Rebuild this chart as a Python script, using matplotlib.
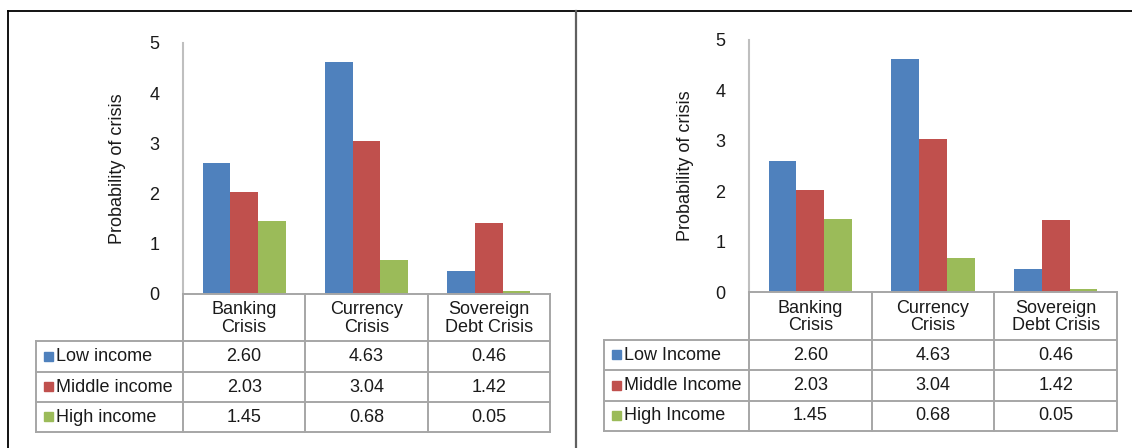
import numpy as np
import matplotlib
matplotlib.use("Agg")
import matplotlib.pyplot as plt

W, H = 1132, 448

categories = ["Banking\nCrisis", "Currency\nCrisis", "Sovereign\nDebt Crisis"]
low_income = [2.60, 4.63, 0.46]
middle_income = [2.03, 3.04, 1.42]
high_income = [1.45, 0.68, 0.05]
labels_left = ["Low income", "Middle income", "High income"]
labels_right = ["Low Income", "Middle Income", "High Income"]
yticks = [0, 1, 2, 3, 4, 5]

COLORS = ["#4F81BD", "#C0504D", "#9BBB59"]
GRID = "#A6A6A6"
TXT = "#1a1a1a"
FS = 13

plt.rcParams["font.family"] = ["Liberation Sans", "DejaVu Sans"]

fig = plt.figure(figsize=(W / 100, H / 100), dpi=100)
bg = fig.add_axes([0, 0, 1, 1])
bg.set_xlim(0, W)
bg.set_ylim(H, 0)
bg.axis("off")
bg.set_zorder(5)
bg.patch.set_visible(False)

# outer frame + divider
bg.plot([8, W], [11, 11], color="black", lw=1.3)
bg.plot([8, 8], [11, H], color="black", lw=1.3)
bg.plot([576, 576], [11, H], color="#606060", lw=1.6)


def draw_panel(x0, x1, ytop, ybase, tleft, rows, names, ylab_x):
    series = [low_income, middle_income, high_income]
    ax = fig.add_axes([x0 / W, 1 - ybase / H, (x1 - x0) / W, (ybase - ytop) / H])
    x = np.arange(len(categories))
    bw = 0.226
    for i, vals in enumerate(series):
        ax.bar(x + (i - 1) * bw, vals, width=bw, color=COLORS[i], zorder=2)
    ax.set_xlim(-0.5, len(categories) - 0.5)
    ax.set_ylim(0, 5)
    ax.set_yticks(yticks)
    ax.set_xticks([])
    for s in ["top", "right", "bottom"]:
        ax.spines[s].set_visible(False)
    ax.spines["left"].set_color("#BFBFBF")
    ax.spines["left"].set_linewidth(1.5)
    ax.tick_params(axis="y", length=0, pad=17, labelsize=FS, labelcolor=TXT)
    ax.set_ylabel("Probability of crisis", fontsize=FS, color=TXT, va="center")
    ax.yaxis.set_label_coords((ylab_x - x0) / (x1 - x0), 0.5)

    # table grid
    colw = (x1 - x0) / len(categories)
    cols = [x0 + k * colw for k in range(len(categories) + 1)]
    lw = 1.4
    bg.plot([x0, x1], [ybase, ybase], color=GRID, lw=lw)
    for r in rows:
        bg.plot([tleft, x1], [r, r], color=GRID, lw=lw)
    for c in cols:
        bg.plot([c, c], [ybase, rows[-1]], color=GRID, lw=lw)
    bg.plot([tleft, tleft], [rows[0], rows[-1]], color=GRID, lw=lw)

    # header
    for k, cat in enumerate(categories):
        bg.text((cols[k] + cols[k + 1]) / 2, (ybase + rows[0]) / 2 + 1, cat,
                ha="center", va="center", fontsize=FS, linespacing=1.05, color=TXT)
    # rows
    for i, vals in enumerate(series):
        ymid = (rows[i] + rows[i + 1]) / 2
        bg.add_patch(plt.Rectangle((tleft + 8, ymid - 4.5), 9, 9, color=COLORS[i]))
        bg.text(tleft + 20, ymid, names[i], ha="left", va="center", fontsize=FS, color=TXT)
        for k, v in enumerate(vals):
            bg.text((cols[k] + cols[k + 1]) / 2, ymid, f"{v:.2f}",
                    ha="center", va="center", fontsize=FS, color=TXT)
    return ax


draw_panel(183, 550, 43, 294, 36, [341, 372, 402, 432], labels_left, 118)
draw_panel(749, 1117, 40, 292, 604, [340, 370, 401, 431], labels_right, 686)

fig.savefig("out.png", dpi=100)
